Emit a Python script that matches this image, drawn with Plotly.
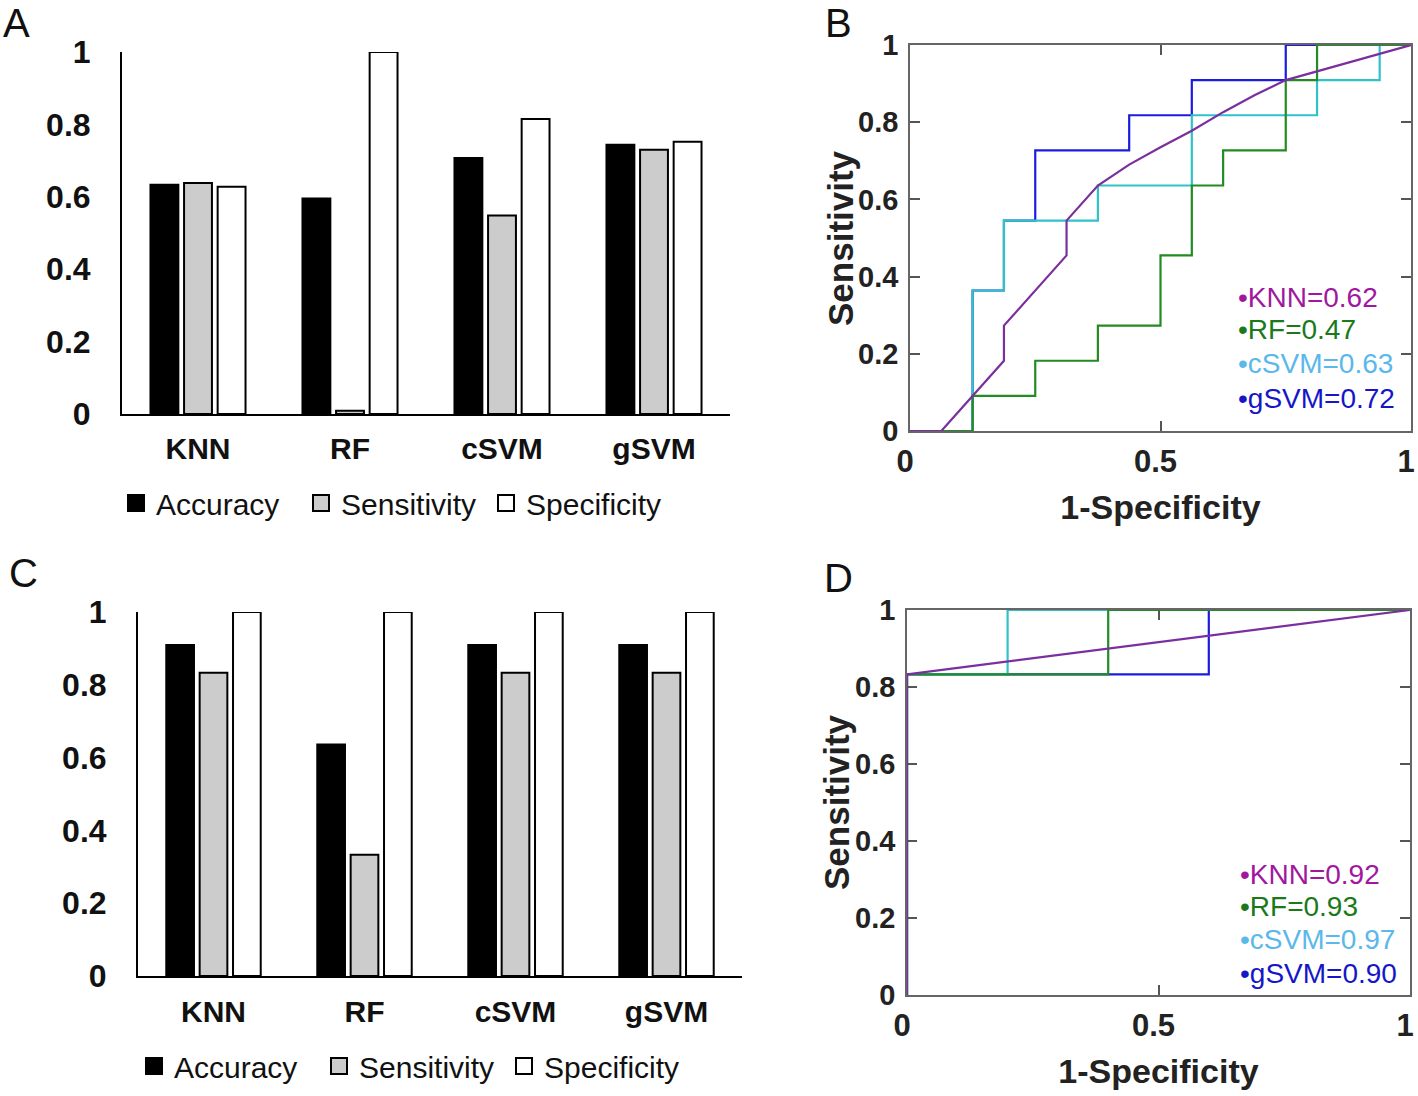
import plotly.graph_objects as go

W, H = 1418, 1096

# ---------------- data ----------------
categories = ["KNN", "RF", "cSVM", "gSVM"]
metric_names = ["Accuracy", "Sensitivity", "Specificity"]

a_accuracy = [0.633, 0.595, 0.707, 0.744]
a_sensitivity = [0.638, 0.009, 0.548, 0.730]
a_specificity = [0.628, 1.000, 0.815, 0.752]

c_accuracy = [0.909, 0.636, 0.909, 0.909]
c_sensitivity = [0.833, 0.333, 0.833, 0.833]
c_specificity = [1.000, 1.000, 1.000, 1.000]

bar_tickvals = [0, 0.2, 0.4, 0.6, 0.8, 1]
bar_ticktext = ["0", "0.2", "0.4", "0.6", "0.8", "1"]
roc_xtickvals = [0, 0.5, 1]
roc_xticktext = ["0", "0.5", "1"]

# ROC curves, panel B
b_knn_fpr = [0, 0.0625, 0.1875, 0.1875, 0.3125, 0.3125, 0.375, 0.4375, 0.5, 0.5625, 0.625, 0.6875, 0.75, 1.0]
b_knn_tpr = [0, 0, 0.182, 0.273, 0.455, 0.545, 0.636, 0.690, 0.735, 0.778, 0.826, 0.870, 0.909, 1.0]
b_rf_fpr = [0, 0.125, 0.25, 0.375, 0.5, 0.5625, 0.625, 0.75, 0.8125, 1.0]
b_rf_tpr = [0, 0.091, 0.182, 0.273, 0.455, 0.636, 0.727, 0.909, 1.0, 1.0]
b_csvm_fpr = [0, 0.125, 0.1875, 0.375, 0.5625, 0.8125, 0.9375, 1.0]
b_csvm_tpr = [0, 0.364, 0.545, 0.636, 0.818, 0.909, 1.0, 1.0]
b_gsvm_fpr = [0, 0.125, 0.1875, 0.25, 0.4375, 0.5625, 0.75, 1.0]
b_gsvm_tpr = [0, 0.364, 0.545, 0.727, 0.818, 0.909, 1.0, 1.0]
b_auc = ["0.62", "0.47", "0.63", "0.72"]

# ROC curves, panel D
d_knn_fpr = [0, 0, 1.0]
d_knn_tpr = [0, 0.833, 1.0]
d_rf_fpr = [0, 0, 0.4, 1.0]
d_rf_tpr = [0, 0.833, 1.0, 1.0]
d_csvm_fpr = [0, 0, 0.2, 1.0]
d_csvm_tpr = [0, 0.833, 1.0, 1.0]
d_gsvm_fpr = [0, 0, 0.6, 1.0]
d_gsvm_tpr = [0, 0.833, 1.0, 1.0]
d_auc = ["0.92", "0.93", "0.97", "0.90"]

# ---------------- styles ----------------
FONT = "Liberation Sans, Arial, Helvetica, sans-serif"
metric_fill = ["#000000", "#cccccc", "#ffffff"]
line_col = {"KNN": "#7b2f9e", "RF": "#228b22", "cSVM": "#2fc3c9", "gSVM": "#1c1ce0"}
text_col = {"KNN": "#a0189f", "RF": "#1a7a1a", "cSVM": "#5ab8ea", "gSVM": "#1616c8"}


def px_x(p):
    return p / W


def px_y(p):
    return 1 - p / H


fig = go.Figure()

# ---------------- bar panels ----------------
for vals_set, xa, ya, lg in [
    ((a_accuracy, a_sensitivity, a_specificity), "x", "y", "legend"),
    ((c_accuracy, c_sensitivity, c_specificity), "x3", "y3", "legend2"),
]:
    for name, vals, fill in zip(metric_names, vals_set, metric_fill):
        fig.add_trace(go.Bar(
            x=categories, y=vals, name=name, xaxis=xa, yaxis=ya, showlegend=False,
            marker=dict(color=fill, line=dict(color="#000000", width=2)),
            cliponaxis=False, hoverinfo="skip",
        ))
    # legend entries (square swatches matching the bar fills)
    for name, fill in zip(metric_names, metric_fill):
        fig.add_trace(go.Scatter(
            x=[None], y=[None], mode="markers", name=name, xaxis=xa, yaxis=ya, legend=lg,
            marker=dict(symbol="square", size=16, color=fill, line=dict(color="#000000", width=2)),
            hoverinfo="skip",
        ))

# ---------------- ROC panels ----------------
roc_sets = [
    ("x2", "y2", [("gSVM", b_gsvm_fpr, b_gsvm_tpr, "hv"), ("cSVM", b_csvm_fpr, b_csvm_tpr, "hv"),
                  ("RF", b_rf_fpr, b_rf_tpr, "hv"), ("KNN", b_knn_fpr, b_knn_tpr, "linear")]),
    ("x4", "y4", [("gSVM", d_gsvm_fpr, d_gsvm_tpr, "hv"), ("cSVM", d_csvm_fpr, d_csvm_tpr, "hv"),
                  ("RF", d_rf_fpr, d_rf_tpr, "hv"), ("KNN", d_knn_fpr, d_knn_tpr, "linear")]),
]
for xa, ya, curves in roc_sets:
    for name, fx, ty, shape in curves:
        fig.add_trace(go.Scatter(
            x=fx, y=ty, mode="lines", xaxis=xa, yaxis=ya, showlegend=False,
            line=dict(color=line_col[name], width=2.2, shape=shape),
            cliponaxis=False, hoverinfo="skip",
        ))

# ---------------- axes ----------------
bar_x_common = dict(
    type="category", range=[-0.5, 3.5], showline=True, linecolor="#000000", linewidth=2,
    ticks="", showgrid=False, zeroline=False, automargin=False,
    tickfont=dict(family=FONT, size=30, color="#111111", weight="bold"),
)
bar_y_common = dict(
    range=[0, 1], showline=True, linecolor="#000000", linewidth=2, ticks="",
    showgrid=False, zeroline=False, tickvals=bar_tickvals, ticktext=bar_ticktext,
    tickfont=dict(family=FONT, size=32, color="#111111", weight="bold"),
    ticklabelstandoff=23, automargin=False,
)
roc_x_common = dict(
    range=[0, 1], showline=True, mirror="ticks", linecolor="#666666", linewidth=1.5,
    ticks="inside", ticklen=10, tickwidth=1.5, tickcolor="#555555",
    showgrid=False, zeroline=False, tickvals=roc_xtickvals, ticktext=roc_xticktext,
    tickfont=dict(family=FONT, size=31, color="#222222", weight="bold"),
    ticklabelstandoff=2, ticklabelshift=-5, automargin=False, ticklabeloverflow="allow",
    title=dict(text="1-Specificity", font=dict(family=FONT, size=34, color="#222222", weight="bold"), standoff=17),
)
roc_y_common = dict(
    range=[0, 1], showline=True, mirror="ticks", linecolor="#666666", linewidth=1.5,
    ticks="inside", ticklen=10, tickwidth=1.5, tickcolor="#555555",
    showgrid=False, zeroline=False, tickvals=bar_tickvals, ticktext=bar_ticktext,
    tickfont=dict(family=FONT, size=29, color="#222222", weight="bold"),
    ticklabelstandoff=4, automargin=False, ticklabeloverflow="allow",
)

fig.update_layout(
    xaxis=dict(domain=[px_x(122), px_x(730)], anchor="y", ticklabelstandoff=7, **bar_x_common),
    yaxis=dict(domain=[px_y(414), px_y(52)], anchor="x", **bar_y_common),
    xaxis3=dict(domain=[px_x(138), px_x(742)], anchor="y3", ticklabelstandoff=8, **bar_x_common),
    yaxis3=dict(domain=[px_y(976), px_y(612)], anchor="x3", **bar_y_common),
    xaxis2=dict(domain=[px_x(910), px_x(1411)], anchor="y2", **roc_x_common),
    yaxis2=dict(domain=[px_y(431), px_y(45)], anchor="x2", **roc_y_common),
    xaxis4=dict(domain=[px_x(907), px_x(1410)], anchor="y4", **roc_x_common),
    yaxis4=dict(domain=[px_y(995), px_y(610)], anchor="x4", **roc_y_common),
    barmode="group", bargap=0.337, bargroupgap=0.17,
    width=W, height=H, margin=dict(l=0, r=0, t=0, b=0, autoexpand=False),
    paper_bgcolor="#ffffff", plot_bgcolor="rgba(0,0,0,0)",
    font=dict(family=FONT, color="#111111"),
    legend=dict(
        orientation="h", x=px_x(116), y=px_y(503), xanchor="left", yanchor="middle",
        font=dict(family=FONT, size=30, color="#111111"), bgcolor="rgba(0,0,0,0)",
        itemwidth=30, entrywidth=140, entrywidthmode="pixels", traceorder="normal",
    ),
    legend2=dict(
        orientation="h", x=px_x(134), y=px_y(1066), xanchor="left", yanchor="middle",
        font=dict(family=FONT, size=30, color="#111111"), bgcolor="rgba(0,0,0,0)",
        itemwidth=30, entrywidth=140, entrywidthmode="pixels", traceorder="normal",
    ),
    showlegend=True,
)

# ---------------- text annotations ----------------
annotations = []
for lab, (px, py, anch) in zip(["A", "B", "C", "D"],
                               [(16, 0, "top"), (838, 0, "top"), (23, 573, "middle"), (838, 578, "middle")]):
    annotations.append(dict(
        text=lab, x=px_x(px), y=px_y(py), xref="paper", yref="paper", showarrow=False,
        xanchor="center", yanchor=anch, borderpad=0, font=dict(family=FONT, size=40, color="#111111"),
    ))

# rotated y-axis titles of the ROC panels
for (px, py) in [(841, 238), (836, 802)]:
    annotations.append(dict(
        text="Sensitivity", x=px_x(px), y=px_y(py), xref="paper", yref="paper", showarrow=False,
        textangle=-90, xanchor="center", yanchor="middle",
        font=dict(family=FONT, size=35, color="#222222", weight="bold"),
    ))

auc_b_y = [0.347, 0.262, 0.174, 0.085]
auc_d_y = [0.312, 0.229, 0.143, 0.057]
for xa, ya, aucs, ys, x0 in [("x2", "y2", b_auc, auc_b_y, 0.65), ("x4", "y4", d_auc, auc_d_y, 0.658)]:
    for name, auc, yy in zip(categories, aucs, ys):
        annotations.append(dict(
            text="\u2022" + name + "=" + auc, x=x0, y=yy, xref=xa, yref=ya, showarrow=False,
            xanchor="left", yanchor="middle", font=dict(family=FONT, size=28, color=text_col[name]),
        ))
fig.update_layout(annotations=annotations)

fig.write_html("out.html", config={"displayModeBar": False},
               post_script="document.body.style.margin='0px';")
